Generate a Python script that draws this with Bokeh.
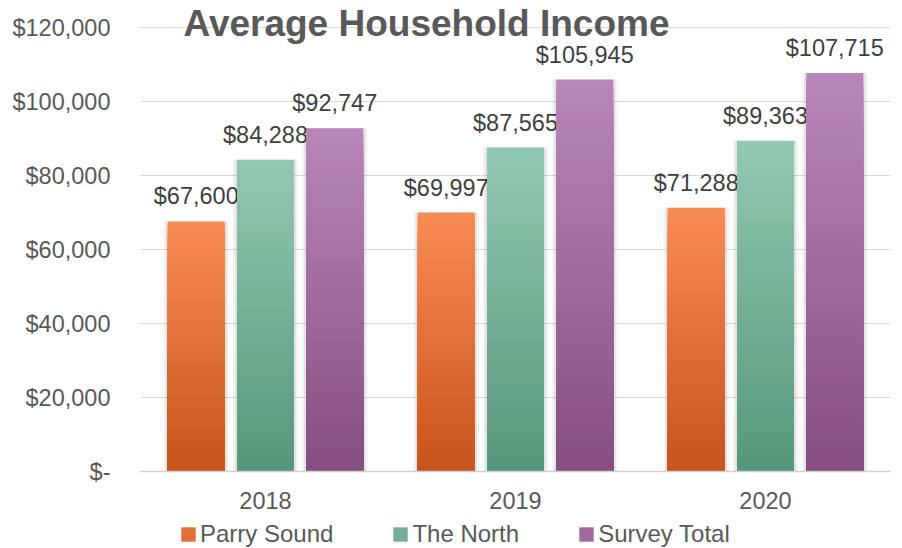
from bokeh.plotting import figure
from bokeh.models import (ColumnDataSource, FactorRange, FixedTicker, NumeralTickFormatter,
                          Legend, LegendItem, Label)
from bokeh.transform import dodge
from bokeh.core.properties import value
from bokeh.embed import file_html
from bokeh.resources import INLINE

# ---- data ----
years = ["2018", "2019", "2020"]
series_names = ["Parry Sound", "The North", "Survey Total"]
parry_sound = [67600, 69997, 71288]
the_north = [84288, 87565, 89363]
survey_total = [92747, 105945, 107715]
y_ticks = [0, 20000, 40000, 60000, 80000, 100000, 120000]
title_text = "Average Household Income"

FONT = "Liberation Sans"
series_values = [parry_sound, the_north, survey_total]
offsets = [-0.277, 0.0, 0.277]
bar_w = 0.228
grad = [("#C5541A", "#F98C54"), ("#559679", "#93C8B0"), ("#854E7E", "#B986B9")]

# frame covers the whole canvas height; 0..120000 spans page y 471..27
PX_PER_UNIT = 444 / 120000
y_end = 471 / PX_PER_UNIT
y_start = -(548 - 471) / PX_PER_UNIT


def hex2rgb(h):
    h = h.lstrip("#")
    return tuple(int(h[i:i + 2], 16) for i in (0, 2, 4))


def mix(c1, c2, f):
    a, b = hex2rgb(c1), hex2rgb(c2)
    return "#%02x%02x%02x" % tuple(round(a[i] + (b[i] - a[i]) * f) for i in range(3))


p = figure(width=894, height=548, x_range=FactorRange(*years), y_range=(y_start, y_end),
           output_backend="svg", toolbar_location=None,
           min_border_left=140, min_border_right=4, min_border_top=0, min_border_bottom=0)
p.outline_line_color = None
p.background_fill_color = "white"
p.border_fill_color = "white"

N = 60
legend_items = []
for vals, off, (cb, ct), name in zip(series_values, offsets, grad, series_names):
    # soft shadow
    for extra, alpha in ((0.034, 0.04), (0.018, 0.07)):
        p.vbar(x=dodge("x", off, range=p.x_range), top="top", bottom=0, width=bar_w + extra,
               source=ColumnDataSource(dict(x=years, top=vals)),
               fill_color="black", fill_alpha=alpha, line_color=None)
    xs, tops, cols = [], [], []
    mid_index = 0
    for k in range(N, 0, -1):
        f = k / N
        for yr, v in zip(years, vals):
            xs.append(yr)
            tops.append(v * f)
            cols.append(mix(cb, ct, f))
        if k == N // 2:
            mid_index = len(xs) - 1
    src = ColumnDataSource(dict(x=xs, top=tops, color=cols))
    r = p.vbar(x=dodge("x", off, range=p.x_range), top="top", bottom=0, width=bar_w,
               source=src, fill_color="color", line_color=None)
    legend_items.append(LegendItem(label=name, renderers=[r], index=mid_index))
    # data labels
    lsrc = ColumnDataSource(dict(x=years, y=vals, t=["${:,}".format(v) for v in vals]))
    p.text(x=dodge("x", off, range=p.x_range), y="y", text="t", source=lsrc,
           text_align="center", text_baseline="alphabetic", y_offset=-25,
           text_font=value(FONT), text_font_size="23.5px", text_color="#404040")

# axes
p.yaxis.ticker = FixedTicker(ticks=y_ticks)
p.yaxis.formatter = NumeralTickFormatter(format="$0,0")
p.yaxis.major_label_overrides = {0: "$-"}
p.yaxis.axis_line_color = None
p.yaxis.major_tick_line_color = None
p.yaxis.minor_tick_line_color = None
p.yaxis.major_label_standoff = 24
p.yaxis.major_label_text_font = FONT
p.yaxis.major_label_text_font_size = "23.5px"
p.yaxis.major_label_text_color = "#595959"

p.xaxis.fixed_location = 0
p.xaxis.axis_line_color = "#D0D0D0"
p.xaxis.axis_line_width = 1.5
p.xaxis.major_tick_line_color = None
p.xaxis.minor_tick_line_color = None
p.xaxis.major_label_standoff = 14
p.xaxis.major_label_text_font = FONT
p.xaxis.major_label_text_font_size = "23.5px"
p.xaxis.major_label_text_color = "#595959"

p.xgrid.grid_line_color = None
p.ygrid.grid_line_color = "#D9D9D9"
p.ygrid.grid_line_width = 1

legend = Legend(items=legend_items, orientation="horizontal", location=(39, 0),
                glyph_width=18, glyph_height=18, label_standoff=3, spacing=58,
                padding=2, margin=0, border_line_color=None, background_fill_alpha=0,
                label_text_font=FONT, label_text_font_size="24px",
                label_text_color="#595959")
p.add_layout(legend, "center")

p.add_layout(Label(x=286, y=525, x_units="screen", y_units="screen", text=title_text,
                   text_align="center", text_baseline="alphabetic", text_font=FONT,
                   text_font_size="37px", text_font_style="bold", text_color="#595959"))

open("out.html", "w").write(file_html(p, INLINE))
